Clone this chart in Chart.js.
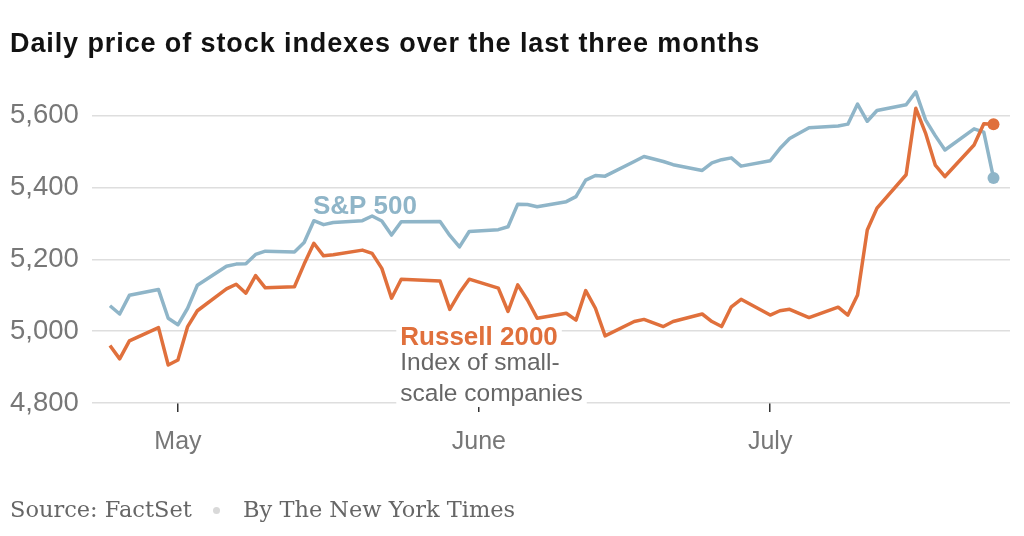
<!DOCTYPE html>
<html>
<head>
<meta charset="utf-8">
<script src="https://cdn.jsdelivr.net/npm/chart.js@4.4.1/dist/chart.umd.min.js"></script>
<style>
  html, body { margin: 0; padding: 0; background: #fff; }
  body { width: 1024px; height: 536px; position: relative; overflow: hidden; }
  #c { position: absolute; left: 0; top: 0; }
  .title { position: absolute; left: 10px; top: 30px; font: bold 27px "Liberation Sans", Arial, sans-serif; letter-spacing: 0.9px; line-height: 1; color: #121212; white-space: nowrap; }
  .foot { position: absolute; top: 498px; font: 22.5px "DejaVu Serif", serif; line-height: 1; color: #666; white-space: nowrap; }
  .dot { position: absolute; left: 213px; top: 507px; width: 7px; height: 7px; border-radius: 50%; background: #d9d9d9; }
</style>
</head>
<body>
<canvas id="c" width="1024" height="536"></canvas>
<div class="title">Daily price of stock indexes over the last three months</div>
<div class="foot" style="left:10px">Source: FactSet</div>
<div class="dot"></div>
<div class="foot" style="left:243px">By The New York Times</div>
<script>
// ---- data ----
const DATES = [
  '2024-04-24','2024-04-25','2024-04-26','2024-04-29','2024-04-30',
  '2024-05-01','2024-05-02','2024-05-03','2024-05-06','2024-05-07','2024-05-08','2024-05-09','2024-05-10',
  '2024-05-13','2024-05-14','2024-05-15','2024-05-16','2024-05-17','2024-05-20','2024-05-21','2024-05-22',
  '2024-05-23','2024-05-24','2024-05-28','2024-05-29','2024-05-30','2024-05-31',
  '2024-06-03','2024-06-04','2024-06-05','2024-06-06','2024-06-07','2024-06-10','2024-06-11','2024-06-12',
  '2024-06-13','2024-06-14','2024-06-17','2024-06-18','2024-06-20','2024-06-21','2024-06-24','2024-06-25',
  '2024-06-26','2024-06-27','2024-06-28',
  '2024-07-01','2024-07-02','2024-07-03','2024-07-05','2024-07-08','2024-07-09','2024-07-10','2024-07-11',
  '2024-07-12','2024-07-15','2024-07-16','2024-07-17','2024-07-18','2024-07-19','2024-07-22','2024-07-23','2024-07-24'
];
const SP500 = [
  5071, 5048, 5100, 5116, 5036,
  5018, 5064, 5128, 5181, 5187, 5188, 5214, 5223,
  5221, 5247, 5308, 5297, 5303, 5308, 5321, 5307,
  5268, 5305, 5306, 5267, 5235, 5278,
  5283, 5291, 5354, 5353, 5347, 5361, 5375, 5421,
  5434, 5432, 5473, 5487, 5473, 5464, 5448, 5469,
  5478, 5483, 5460,
  5475, 5509, 5537, 5567, 5572, 5577, 5633, 5585,
  5615, 5631, 5667, 5589, 5545, 5505, 5564, 5555, 5427
];
const RUSSELL2000 = [
  4960, 4923, 4973, 5010, 4906,
  4920, 5013, 5057, 5118, 5131, 5106, 5155, 5121,
  5124, 5187, 5245, 5210, 5213, 5226, 5217, 5175,
  5092, 5145, 5140, 5061, 5107, 5145,
  5120, 5055, 5129, 5087, 5036, 5050, 5031, 5113,
  5064, 4987, 5027, 5033, 5013, 5027, 5048, 5027,
  5013, 5068, 5089,
  5045, 5057, 5061, 5038, 5067, 5045, 5101, 5282,
  5343, 5436, 5621, 5552, 5463, 5431, 5519, 5578, 5577
];
const Y_TICKS = [4800, 5000, 5200, 5400, 5600];
const MONTH_DATES = ['2024-05-01', '2024-06-01', '2024-07-01'];
const MONTH_LABELS = ['May', 'June', 'July'];
const SERIES_NAMES = ['Russell 2000', 'S&P 500'];

// ---- helpers ----
const ORIGIN = Date.UTC(2024, 4, 1);
const dayOf = s => { const [y, m, d] = s.split('-').map(Number); return Math.round((Date.UTC(y, m - 1, d) - ORIGIN) / 86400000); };
const X = DATES.map(dayOf);
const MONTH_X = MONTH_DATES.map(dayOf);
const toPts = vals => vals.map((v, i) => ({ x: X[i], y: v }));
const lastOnly = (n, r) => Array.from({ length: n }, (_, i) => i === n - 1 ? r : 0);

const BLUE = '#8fb5c8';
const ORANGE = '#e0703c';
const SANS = '"Liberation Sans", Arial, sans-serif';

const labelPlugin = {
  id: 'seriesLabels',
  beforeDatasetsDraw(chart) {
    const { ctx, scales: { x, y } } = chart;
    const items = [
      { t: SERIES_NAMES[1], dx: 13.9, dy: 5346, font: 'bold 26px ' + SANS, color: BLUE },
      { t: SERIES_NAMES[0], dx: 22.9, dy: 4981, font: 'bold 26px ' + SANS, color: ORANGE },
      { t: 'Index of small-', dx: 22.9, dy: 4911, font: '24.5px ' + SANS, color: '#666' },
      { t: 'scale companies', dx: 22.9, dy: 4825, font: '24.5px ' + SANS, color: '#666' }
    ];
    ctx.save();
    ctx.textBaseline = 'middle';
    ctx.textAlign = 'left';
    for (const it of items) {
      ctx.font = it.font;
      const px = x.getPixelForValue(it.dx);
      const py = y.getPixelForValue(it.dy);
      const w = ctx.measureText(it.t).width;
      ctx.fillStyle = '#fff';
      ctx.fillRect(px - 4, py - 13, w + 8, 26);
      ctx.fillStyle = it.color;
      ctx.fillText(it.t, px, py);
    }
    ctx.restore();
  }
};

new Chart(document.getElementById('c'), {
  type: 'line',
  data: {
    datasets: [
      {
        label: SERIES_NAMES[0], data: toPts(RUSSELL2000),
        borderColor: ORANGE, backgroundColor: ORANGE, borderWidth: 3.5,
        pointRadius: lastOnly(RUSSELL2000.length, 6), pointBorderWidth: 0,
        pointBackgroundColor: ORANGE, tension: 0, borderJoinStyle: 'round'
      },
      {
        label: SERIES_NAMES[1], data: toPts(SP500),
        borderColor: BLUE, backgroundColor: BLUE, borderWidth: 3.5,
        pointRadius: lastOnly(SP500.length, 6), pointBorderWidth: 0,
        pointBackgroundColor: BLUE, tension: 0, borderJoinStyle: 'round'
      }
    ]
  },
  options: {
    responsive: false,
    animation: false,
    devicePixelRatio: 1,
    layout: { padding: { left: 10, right: 14, top: 80, bottom: 73 } },
    plugins: { legend: { display: false }, tooltip: { enabled: false } },
    scales: {
      x: {
        type: 'linear', min: -8.85, max: 85.7,
        afterBuildTicks: s => { s.ticks = MONTH_X.map(v => ({ value: v })); },
        afterFit: s => { s.height = 60; },
        ticks: {
          callback: v => MONTH_LABELS[MONTH_X.indexOf(v)],
          font: { family: SANS, size: 25 }, color: '#777',
          padding: 15, autoSkip: false, maxRotation: 0
        },
        grid: { drawOnChartArea: false, drawTicks: true, tickLength: 9, color: '#333', lineWidth: 1.5 },
        border: { display: false }
      },
      y: {
        min: 4800, max: 5700,
        afterBuildTicks: s => { s.ticks = Y_TICKS.map(v => ({ value: v })); },
        afterFit: s => { s.width = 82; },
        ticks: {
          callback: v => v.toLocaleString('en-US'),
          crossAlign: 'far', padding: 0,
          font: { family: SANS, size: 27.5 }, color: '#777'
        },
        grid: { color: '#dedede', lineWidth: 1.5, drawTicks: false },
        border: { display: false }
      }
    }
  },
  plugins: [labelPlugin]
});
</script>
</body>
</html>
